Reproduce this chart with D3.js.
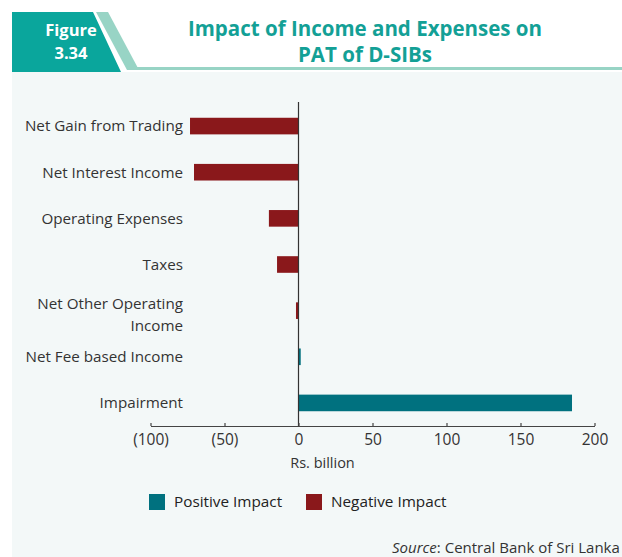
<!DOCTYPE html>
<html><head><meta charset="utf-8">
<script src="https://cdn.jsdelivr.net/npm/d3@7"></script>
<style>body{margin:0;background:#fff;} text{font-family:"Open Sans",sans-serif;}</style>
</head><body>
<script>
const categories = ["Net Gain from Trading","Net Interest Income","Operating Expenses","Taxes","Net Other Operating Income","Net Fee based Income","Impairment"];
const values = [-73.3,-70.6,-20,-14.5,-1.7,1.5,184.8];
const ticks = [-100,-50,0,50,100,150,200];
const tickLabels = ["(100)","(50)","0","50","100","150","200"];
const legendLabels = ["Positive Impact","Negative Impact"];
const posColor = "#00717f", negColor = "#8a181b";

const W = 622, H = 557;
const svg = d3.select("body").append("svg").attr("width",W).attr("height",H);

// background panel
svg.append("rect").attr("x",12).attr("y",72).attr("width",W-12).attr("height",H-72).attr("fill","#f3f8f8");
// header
svg.append("polygon").attr("points","12,12 93,12 121,72 12,72").attr("fill","#0aa69c");
svg.append("polygon").attr("points","96,12 108,12 139,70 127,70").attr("fill","#98d4c5");
svg.append("rect").attr("x",134).attr("y",67).attr("width",W-134).attr("height",3).attr("fill","#98d4c5");
svg.append("text").attr("x",71).attr("y",36).attr("text-anchor","middle").attr("fill","#fff")
  .attr("font-size",16.5).attr("font-weight","bold").text("Figure");
svg.append("text").attr("x",71).attr("y",59).attr("text-anchor","middle").attr("fill","#fff")
  .attr("font-size",16.5).attr("font-weight","bold").text("3.34");
svg.append("text").attr("x",365).attr("y",36).attr("text-anchor","middle").attr("fill","#13a096")
  .attr("font-size",20.5).attr("font-weight","bold").text("Impact of Income and Expenses on");
svg.append("text").attr("x",365).attr("y",62).attr("text-anchor","middle").attr("fill","#13a096")
  .attr("font-size",20.5).attr("font-weight","bold").text("PAT of D-SIBs");

const x = d3.scaleLinear().domain([-100,200]).range([150.5,594.5]);
const y = d3.scaleBand().domain(categories).range([103,426]).paddingInner(0.64).paddingOuter(0.32);

const g = svg.append("g");
g.selectAll("rect.bar").data(categories).join("rect").attr("class","bar")
  .attr("x",(d,i)=>x(Math.min(0,values[i])))
  .attr("width",(d,i)=>Math.abs(x(values[i])-x(0)))
  .attr("y",d=>y(d)).attr("height",y.bandwidth())
  .attr("fill",(d,i)=>values[i]>=0?posColor:negColor);

// zero line
g.append("line").attr("x1",x(0)).attr("x2",x(0)).attr("y1",102).attr("y2",426).attr("stroke","#333").attr("stroke-width",1.2);

// x axis
const ax = svg.append("g").attr("transform","translate(0,426)")
  .call(d3.axisBottom(x).tickValues(ticks).tickFormat((d,i)=>tickLabels[i]).tickSizeInner(-3).tickSizeOuter(0).tickPadding(5));
ax.select(".domain").attr("stroke","#444").attr("stroke-width",1.2);
ax.selectAll(".tick line").attr("stroke","#444").attr("stroke-width",1.2);
ax.selectAll(".tick text").attr("font-size",15.5).attr("fill","#333").attr("font-family","'Open Sans',sans-serif").attr("dy","0.9em");
svg.append("text").attr("x",x(0)+24).attr("y",468).attr("text-anchor","middle").attr("font-size",14.5).attr("fill","#333").text("Rs. billion");

// category labels
const labelLines = {"Net Other Operating Income":["Net Other Operating","Income"]};
categories.forEach(c=>{
  const lines = labelLines[c] || [c];
  const cy = y(c)+y.bandwidth()/2 + (lines.length>1?4:0);
  const t = svg.append("text").attr("x",183).attr("text-anchor","end").attr("font-size",15.2).attr("fill","#333");
  lines.forEach((l,i)=>{
    t.append("tspan").attr("x",183).attr("y",cy + (i-(lines.length-1)/2)*22).attr("dy","0.35em").text(l);
  });
});

// legend
const leg = [{l:legendLabels[0],c:posColor,x:149},{l:legendLabels[1],c:negColor,x:306}];
leg.forEach(o=>{
  svg.append("rect").attr("x",o.x).attr("y",494).attr("width",16).attr("height",16).attr("fill",o.c);
  svg.append("text").attr("x",o.x+25).attr("y",502).attr("dy","0.35em").attr("font-size",15.3).attr("fill","#222").text(o.l);
});

// source
const s = svg.append("text").attr("x",392).attr("y",553).attr("font-size",15).attr("fill","#333");
s.append("tspan").attr("font-style","italic").text("Source");
s.append("tspan").text(": Central Bank of Sri Lanka");
</script>
</body></html>
